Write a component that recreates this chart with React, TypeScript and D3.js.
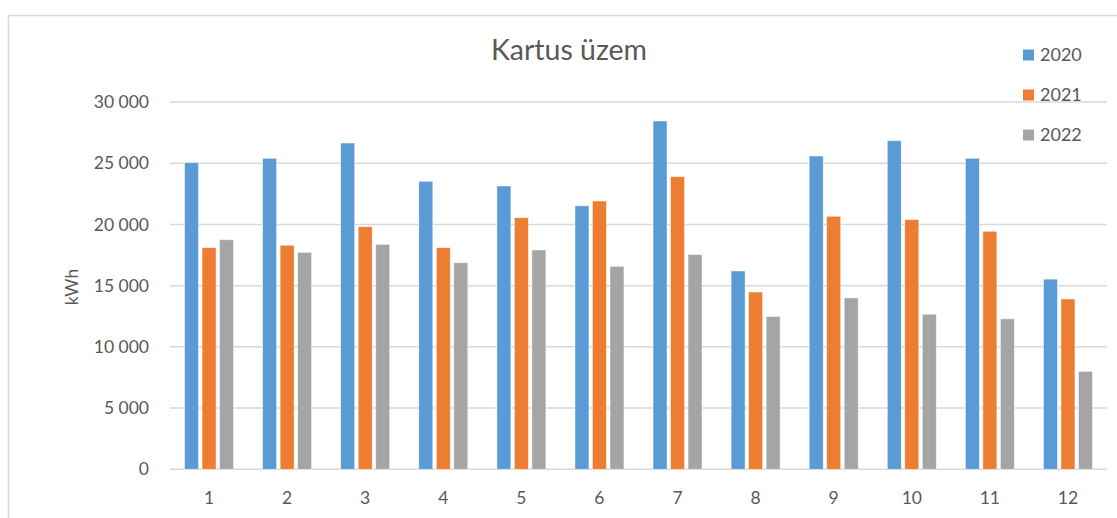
import React from "react";
import * as d3 from "d3";

const categories = ["1", "2", "3", "4", "5", "6", "7", "8", "9", "10", "11", "12"];
const seriesNames = ["2020", "2021", "2022"];
const values2020 = [25050, 25400, 26650, 23520, 23140, 21520, 28450, 16200, 25590, 26840, 25400, 15530];
const values2021 = [18100, 18300, 19815, 18100, 20550, 21915, 23900, 14480, 20665, 20390, 19440, 13910];
const values2022 = [18750, 17720, 18375, 16870, 17910, 16580, 17540, 12480, 14000, 12670, 12290, 8000];
const yTicks = [0, 5000, 10000, 15000, 20000, 25000, 30000];
const colors = ["#5B9BD5", "#ED7D31", "#A5A5A5"];

const W = 1117;
const H = 518;
const left = 170;
const right = 1107;
const top = 102;
const bottom = 469.3;
const FONT = "Lato, 'Open Sans', sans-serif";

const fmt = (v: number) => {
  const s = String(v);
  if (v < 1000) return s;
  return s.slice(0, s.length - 3) + "\u00A0" + s.slice(s.length - 3);
};

export default function App() {
  const allSeries = [values2020, values2021, values2022];
  const x0 = d3.scaleBand<string>().domain(categories).range([left, right]).paddingInner(0).paddingOuter(0);
  const step = x0.bandwidth();
  const clusterW = 52.5;
  const x1 = d3
    .scaleBand<string>()
    .domain(seriesNames)
    .range([(step - clusterW) / 2, (step + clusterW) / 2])
    .paddingInner(0.2)
    .paddingOuter(0.1);
  const y = d3.scaleLinear().domain([0, 30000]).range([bottom, top]);

  return (
    <svg width={W} height={H} style={{ position: "absolute", left: 0, top: 0, display: "block" }}>
      <rect x={0} y={0} width={W} height={H} fill="#fff" />
      <rect x={8.5} y={15.5} width={W + 20} height={H + 20} fill="#fff" stroke="#d9d9d9" strokeWidth={1.5} />
      {yTicks.map((t) => (
        <g key={t}>
          <line x1={left} x2={right} y1={y(t)} y2={y(t)} stroke="#d9d9d9" strokeWidth={1.5} />
          <text
            x={149}
            y={y(t)}
            dy="0.35em"
            textAnchor="end"
            fontFamily={FONT}
            fontSize={17.5}
            fill="#595959"
          >
            {fmt(t)}
          </text>
        </g>
      ))}
      {categories.map((c, ci) => (
        <g key={c} transform={`translate(${x0(c)},0)`}>
          {seriesNames.map((s, si) => {
            const v = allSeries[si][ci];
            return (
              <rect
                key={s}
                x={x1(s)}
                y={y(v)}
                width={x1.bandwidth()}
                height={y(0) - y(v)}
                fill={colors[si]}
                stroke="#fff"
                strokeOpacity={0.6}
                strokeWidth={0.8}
              />
            );
          })}
          <text
            x={step / 2}
            y={498}
            dy="0.35em"
            textAnchor="middle"
            fontFamily={FONT}
            fontSize={17.5}
            fill="#595959"
          >
            {c}
          </text>
        </g>
      ))}
      <text
        x={72}
        y={287}
        transform="rotate(-90 72 287)"
        textAnchor="middle"
        dy="0.35em"
        fontFamily={FONT}
        fontSize={17.5}
        fill="#595959"
      >
        kWh
      </text>
      <text x={569} y={60} textAnchor="middle" fontFamily={FONT} fontSize={28.5} fill="#595959">
        Kartus üzem
      </text>
      {seriesNames.map((s, i) => (
        <g key={s} transform={`translate(1023, ${55 + i * 40})`}>
          <rect x={0} y={-5.5} width={11} height={11} fill={colors[i]} />
          <text x={17} y={0} dy="0.35em" fontFamily={FONT} fontSize={18} fill="#595959">
            {s}
          </text>
        </g>
      ))}
    </svg>
  );
}
